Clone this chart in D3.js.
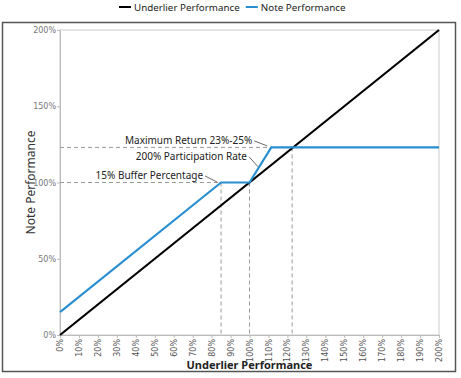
<!DOCTYPE html>
<html><head><meta charset="utf-8">
<script src="https://cdn.jsdelivr.net/npm/d3@7"></script>
<style>
html,body{margin:0;padding:0;background:#fff;}
svg{display:block;}
</style></head>
<body>
<svg id="chart" width="461" height="378"></svg>
<script>
const seriesNames = ["Underlier Performance", "Note Performance"];
const seriesColors = ["#000000", "#2a8fd0"];
const underlierX = [0, 200];
const underlierY = [0, 200];
const noteX = [0, 85, 100, 111.5, 200];
const noteY = [15, 100, 100, 123, 123];
const xTicks = d3.range(0, 201, 10);
const yTicks = [0, 50, 100, 150, 200];
const annotationTexts = ["Maximum Return 23%-25%", "200% Participation Rate", "15% Buffer Percentage"];
const annotationTargets = [[111.5, 123], [104.5, 109], [85, 100]];

const svg = d3.select("#chart");
const m = {l: 60, r: 439, t: 30, b: 335};
const x = d3.scaleLinear().domain([0, 200]).range([m.l, m.r]);
const y = d3.scaleLinear().domain([0, 200]).range([m.b, m.t]);

// outer frame
svg.append("rect").attr("x", 2.5).attr("y", 22.5).attr("width", 453).attr("height", 349)
  .attr("fill", "none").attr("stroke", "#555").attr("stroke-width", 1.5);
// plot frame
svg.append("rect").attr("x", m.l).attr("y", m.t).attr("width", m.r - m.l).attr("height", m.b - m.t)
  .attr("fill", "none").attr("stroke", "#ccc").attr("stroke-width", 1);

// axes
const yAxis = d3.axisLeft(y).tickValues(yTicks).tickFormat(d => d + "%").tickSize(3).tickPadding(1);
const gy = svg.append("g").attr("transform", `translate(${m.l},0)`).call(yAxis);
gy.select(".domain").attr("stroke", "#bbb");
gy.selectAll(".tick line").attr("stroke", "#bbb");
gy.selectAll("text").attr("fill", "#777").style("font-family", "DejaVu Sans").style("font-size", "8px");

const xAxis = d3.axisBottom(x).tickValues(xTicks).tickFormat(d => d + "%").tickSize(3);
const gx = svg.append("g").attr("transform", `translate(0,${m.b})`).call(xAxis);
gx.select(".domain").attr("stroke", "#bbb");
gx.selectAll(".tick line").attr("stroke", "#bbb");
gx.selectAll("text").attr("fill", "#555").style("font-family", "DejaVu Sans").style("font-size", "8px")
  .attr("text-anchor", "end").attr("transform", "rotate(-90)").attr("x", -4).attr("y", 0).attr("dy", "0.32em");

// guides
const dash = "4,3";
svg.append("line").attr("x1", x(0)).attr("x2", x(85)).attr("y1", y(100)).attr("y2", y(100))
  .attr("stroke", "#999").attr("stroke-dasharray", dash);
svg.append("line").attr("x1", x(0)).attr("x2", x(111.5)).attr("y1", y(123)).attr("y2", y(123))
  .attr("stroke", "#999").attr("stroke-dasharray", dash);
[[85, 100], [100, 100], [122.5, 123]].forEach(([sx, sy]) => {
  svg.append("line").attr("x1", x(sx)).attr("x2", x(sx)).attr("y1", y(sy)).attr("y2", y(0))
    .attr("stroke", "#999").attr("stroke-dasharray", dash);
});

// lines
const line = d3.line().x(d => x(d[0])).y(d => y(d[1]));
svg.append("path").datum(underlierX.map((v, i) => [v, underlierY[i]])).attr("d", line)
  .attr("fill", "none").attr("stroke", seriesColors[0]).attr("stroke-width", 2.2);
svg.append("path").datum(noteX.map((v, i) => [v, noteY[i]])).attr("d", line)
  .attr("fill", "none").attr("stroke", seriesColors[1]).attr("stroke-width", 2.2);

// annotations: pointer gap from target, pointer length
const annGap = [[-4, -1.5], [0, -2], [-4, -0.5]];
const annLen = [[-13, -5], [-9, -10], [-12, -6]];
annotationTexts.forEach((t, i) => {
  const [tx, ty] = annotationTargets[i];
  const px = x(tx) + annGap[i][0], py = y(ty) + annGap[i][1];
  const ex = px + annLen[i][0], ey = py + annLen[i][1];
  svg.append("line").attr("x1", ex).attr("y1", ey).attr("x2", px).attr("y2", py)
    .attr("stroke", "#444").attr("stroke-width", 0.8);
  svg.append("text").attr("x", ex - 2).attr("y", ey + 3).attr("text-anchor", "end")
    .style("font-family", "Noto Sans").style("font-size", "10px").attr("fill", "#222").text(t);
});

// axis titles
svg.append("text").attr("x", (m.l + m.r) / 2).attr("y", 369).attr("text-anchor", "middle")
  .style("font-family", "Noto Sans").style("font-weight", "bold").style("font-size", "11px").attr("fill", "#222")
  .text("Underlier Performance");
svg.append("text").attr("transform", `translate(35,${(m.t + m.b) / 2}) rotate(-90)`).attr("text-anchor", "middle")
  .style("font-family", "Noto Sans").style("font-size", "12px").attr("fill", "#333")
  .text("Note Performance");

// legend
const lg = svg.append("g");
let lx = 119;
seriesNames.forEach((n, i) => {
  lg.append("line").attr("x1", lx).attr("x2", lx + 12).attr("y1", 7).attr("y2", 7)
    .attr("stroke", seriesColors[i]).attr("stroke-width", 2);
  const t = lg.append("text").attr("x", lx + 15).attr("y", 10.5).style("font-family", "Noto Sans")
    .style("font-size", "9.8px").attr("fill", "#222").text(n);
  lx += 15 + t.node().getComputedTextLength() + 6;
});
</script>
</body></html>
